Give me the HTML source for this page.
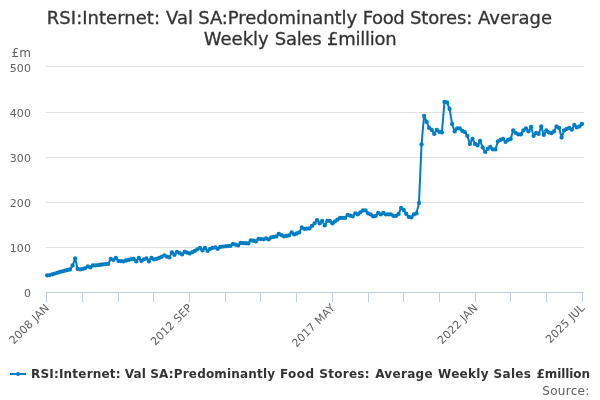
<!DOCTYPE html>
<html><head><meta charset="utf-8"><title>chart</title>
<style>
html,body{margin:0;padding:0;background:#fff;}
svg{display:block;font-family:"DejaVu Sans","Liberation Sans",sans-serif;}
</style></head><body>
<svg width="600" height="400" viewBox="0 0 600 400">
<rect x="0" y="0" width="600" height="400" fill="#FFFFFF"/>
<g><path d="M 46 66.5 L 584 66.5" stroke="#E0E0E0" stroke-width="1" fill="none"/><path d="M 46 112.5 L 584 112.5" stroke="#E0E0E0" stroke-width="1" fill="none"/><path d="M 46 157.5 L 584 157.5" stroke="#E0E0E0" stroke-width="1" fill="none"/><path d="M 46 202.5 L 584 202.5" stroke="#E0E0E0" stroke-width="1" fill="none"/><path d="M 46 247.5 L 584 247.5" stroke="#E0E0E0" stroke-width="1" fill="none"/></g>
<g><path d="M 46.5 292 L 46.5 302" stroke="#C0D0E0" stroke-width="1" fill="none"/><path d="M 82.5 292 L 82.5 302" stroke="#C0D0E0" stroke-width="1" fill="none"/><path d="M 118.5 292 L 118.5 302" stroke="#C0D0E0" stroke-width="1" fill="none"/><path d="M 153.5 292 L 153.5 302" stroke="#C0D0E0" stroke-width="1" fill="none"/><path d="M 189.5 292 L 189.5 302" stroke="#C0D0E0" stroke-width="1" fill="none"/><path d="M 225.5 292 L 225.5 302" stroke="#C0D0E0" stroke-width="1" fill="none"/><path d="M 260.5 292 L 260.5 302" stroke="#C0D0E0" stroke-width="1" fill="none"/><path d="M 296.5 292 L 296.5 302" stroke="#C0D0E0" stroke-width="1" fill="none"/><path d="M 332.5 292 L 332.5 302" stroke="#C0D0E0" stroke-width="1" fill="none"/><path d="M 368.5 292 L 368.5 302" stroke="#C0D0E0" stroke-width="1" fill="none"/><path d="M 403.5 292 L 403.5 302" stroke="#C0D0E0" stroke-width="1" fill="none"/><path d="M 439.5 292 L 439.5 302" stroke="#C0D0E0" stroke-width="1" fill="none"/><path d="M 475.5 292 L 475.5 302" stroke="#C0D0E0" stroke-width="1" fill="none"/><path d="M 510.5 292 L 510.5 302" stroke="#C0D0E0" stroke-width="1" fill="none"/><path d="M 546.5 292 L 546.5 302" stroke="#C0D0E0" stroke-width="1" fill="none"/><path d="M 582.5 292 L 582.5 302" stroke="#C0D0E0" stroke-width="1" fill="none"/><path d="M 46 292.5 L 584 292.5" stroke="#C0D0E0" stroke-width="1" fill="none"/></g>
<g fill="none" stroke="#007DC3" stroke-width="2" stroke-linejoin="round" stroke-linecap="round"><path d="M 47.10 275.30 L 49.65 275.10 L 52.19 274.40 L 54.74 273.60 L 57.29 272.80 L 59.84 272.00 L 62.38 271.40 L 64.93 270.70 L 67.48 270.00 L 70.02 269.50 L 72.57 265.50 L 75.12 258.50 L 77.67 269.00 L 80.21 269.40 L 82.76 268.90 L 85.31 268.08 L 87.85 266.40 L 90.40 267.40 L 92.95 265.40 L 95.49 265.40 L 98.04 265.05 L 100.59 264.76 L 103.14 264.46 L 105.68 264.17 L 108.23 263.90 L 110.78 258.90 L 113.32 259.90 L 115.87 257.90 L 118.42 260.90 L 120.97 261.17 L 123.51 261.40 L 126.06 260.48 L 128.61 259.90 L 131.15 259.20 L 133.70 258.90 L 136.25 261.40 L 138.80 257.90 L 141.34 260.90 L 143.89 259.29 L 146.44 258.40 L 148.98 261.40 L 151.53 257.90 L 154.08 259.40 L 156.63 258.91 L 159.17 257.90 L 161.72 256.83 L 164.27 255.40 L 166.81 256.65 L 169.36 257.40 L 171.91 252.40 L 174.45 254.90 L 177.00 251.90 L 179.55 253.04 L 182.10 254.40 L 184.64 251.90 L 187.19 252.63 L 189.74 253.40 L 192.28 252.26 L 194.83 250.90 L 197.38 249.31 L 199.93 247.90 L 202.47 250.40 L 205.02 247.90 L 207.57 250.90 L 210.11 248.90 L 212.66 247.90 L 215.21 247.40 L 217.76 248.90 L 220.30 246.90 L 222.85 246.62 L 225.40 246.36 L 227.94 246.11 L 230.49 245.90 L 233.04 243.90 L 235.59 244.68 L 238.13 245.40 L 240.68 242.90 L 243.23 243.06 L 245.77 243.24 L 248.32 243.40 L 250.87 240.40 L 253.42 240.75 L 255.96 241.40 L 258.51 238.90 L 261.06 239.12 L 263.60 239.30 L 266.15 238.40 L 268.70 239.40 L 271.24 237.40 L 273.79 236.89 L 276.34 236.40 L 278.89 233.90 L 281.43 235.12 L 283.98 236.40 L 286.53 235.89 L 289.07 235.40 L 291.62 232.40 L 294.17 234.40 L 296.72 233.51 L 299.26 232.40 L 301.81 227.40 L 304.36 228.90 L 306.90 228.66 L 309.45 228.40 L 312.00 225.90 L 314.55 223.40 L 317.09 220.20 L 319.64 223.40 L 322.19 220.90 L 324.73 225.40 L 327.28 220.90 L 329.83 220.90 L 332.38 223.40 L 334.92 221.39 L 337.47 219.64 L 340.02 217.90 L 342.56 217.90 L 345.11 217.90 L 347.66 214.90 L 350.20 215.63 L 352.75 216.40 L 355.30 213.40 L 357.85 214.40 L 360.39 212.30 L 362.94 210.40 L 365.49 210.40 L 368.03 213.40 L 370.58 214.40 L 373.13 216.40 L 375.68 215.90 L 378.22 212.90 L 380.77 214.40 L 383.32 212.90 L 385.86 214.40 L 388.41 214.40 L 390.96 214.40 L 393.51 215.90 L 396.05 215.90 L 398.60 213.90 L 401.15 207.90 L 403.69 209.90 L 406.24 213.90 L 408.79 216.90 L 411.34 217.40 L 413.88 214.40 L 416.43 213.40 L 418.98 202.90 L 421.52 144.40 L 424.07 115.90 L 426.62 121.90 L 429.17 127.90 L 431.71 129.90 L 434.26 133.90 L 436.81 129.90 L 439.35 131.90 L 441.90 132.40 L 444.45 101.90 L 446.99 102.40 L 449.54 108.90 L 452.09 123.90 L 454.64 131.40 L 457.18 128.40 L 459.73 128.40 L 462.28 130.90 L 464.82 132.20 L 467.37 135.90 L 469.92 143.90 L 472.47 138.90 L 475.01 143.90 L 477.56 145.40 L 480.11 140.90 L 482.65 147.40 L 485.20 151.90 L 487.75 148.90 L 490.30 146.90 L 492.84 149.40 L 495.39 149.40 L 497.94 141.40 L 500.48 139.90 L 503.03 138.90 L 505.58 141.90 L 508.13 139.90 L 510.67 138.90 L 513.22 130.40 L 515.77 132.90 L 518.31 134.40 L 520.86 134.40 L 523.41 130.40 L 525.95 128.40 L 528.50 131.40 L 531.05 126.90 L 533.60 135.90 L 536.14 132.90 L 538.69 133.90 L 541.24 126.40 L 543.78 134.90 L 546.33 130.40 L 548.88 132.40 L 551.43 133.20 L 553.97 131.40 L 556.52 126.40 L 559.07 127.90 L 561.61 137.60 L 564.16 130.40 L 566.71 128.90 L 569.26 127.90 L 571.80 129.70 L 574.35 124.90 L 576.90 127.40 L 579.44 126.40 L 581.99 123.90"/></g>
<g fill="#007DC3"><circle cx="47.10" cy="275.30" r="2.15"/><circle cx="49.65" cy="275.10" r="2.15"/><circle cx="52.19" cy="274.40" r="2.15"/><circle cx="54.74" cy="273.60" r="2.15"/><circle cx="57.29" cy="272.80" r="2.15"/><circle cx="59.84" cy="272.00" r="2.15"/><circle cx="62.38" cy="271.40" r="2.15"/><circle cx="64.93" cy="270.70" r="2.15"/><circle cx="67.48" cy="270.00" r="2.15"/><circle cx="70.02" cy="269.50" r="2.15"/><circle cx="72.57" cy="265.50" r="2.15"/><circle cx="75.12" cy="258.50" r="2.15"/><circle cx="77.67" cy="269.00" r="2.15"/><circle cx="80.21" cy="269.40" r="2.15"/><circle cx="82.76" cy="268.90" r="2.15"/><circle cx="85.31" cy="268.08" r="2.15"/><circle cx="87.85" cy="266.40" r="2.15"/><circle cx="90.40" cy="267.40" r="2.15"/><circle cx="92.95" cy="265.40" r="2.15"/><circle cx="95.49" cy="265.40" r="2.15"/><circle cx="98.04" cy="265.05" r="2.15"/><circle cx="100.59" cy="264.76" r="2.15"/><circle cx="103.14" cy="264.46" r="2.15"/><circle cx="105.68" cy="264.17" r="2.15"/><circle cx="108.23" cy="263.90" r="2.15"/><circle cx="110.78" cy="258.90" r="2.15"/><circle cx="113.32" cy="259.90" r="2.15"/><circle cx="115.87" cy="257.90" r="2.15"/><circle cx="118.42" cy="260.90" r="2.15"/><circle cx="120.97" cy="261.17" r="2.15"/><circle cx="123.51" cy="261.40" r="2.15"/><circle cx="126.06" cy="260.48" r="2.15"/><circle cx="128.61" cy="259.90" r="2.15"/><circle cx="131.15" cy="259.20" r="2.15"/><circle cx="133.70" cy="258.90" r="2.15"/><circle cx="136.25" cy="261.40" r="2.15"/><circle cx="138.80" cy="257.90" r="2.15"/><circle cx="141.34" cy="260.90" r="2.15"/><circle cx="143.89" cy="259.29" r="2.15"/><circle cx="146.44" cy="258.40" r="2.15"/><circle cx="148.98" cy="261.40" r="2.15"/><circle cx="151.53" cy="257.90" r="2.15"/><circle cx="154.08" cy="259.40" r="2.15"/><circle cx="156.63" cy="258.91" r="2.15"/><circle cx="159.17" cy="257.90" r="2.15"/><circle cx="161.72" cy="256.83" r="2.15"/><circle cx="164.27" cy="255.40" r="2.15"/><circle cx="166.81" cy="256.65" r="2.15"/><circle cx="169.36" cy="257.40" r="2.15"/><circle cx="171.91" cy="252.40" r="2.15"/><circle cx="174.45" cy="254.90" r="2.15"/><circle cx="177.00" cy="251.90" r="2.15"/><circle cx="179.55" cy="253.04" r="2.15"/><circle cx="182.10" cy="254.40" r="2.15"/><circle cx="184.64" cy="251.90" r="2.15"/><circle cx="187.19" cy="252.63" r="2.15"/><circle cx="189.74" cy="253.40" r="2.15"/><circle cx="192.28" cy="252.26" r="2.15"/><circle cx="194.83" cy="250.90" r="2.15"/><circle cx="197.38" cy="249.31" r="2.15"/><circle cx="199.93" cy="247.90" r="2.15"/><circle cx="202.47" cy="250.40" r="2.15"/><circle cx="205.02" cy="247.90" r="2.15"/><circle cx="207.57" cy="250.90" r="2.15"/><circle cx="210.11" cy="248.90" r="2.15"/><circle cx="212.66" cy="247.90" r="2.15"/><circle cx="215.21" cy="247.40" r="2.15"/><circle cx="217.76" cy="248.90" r="2.15"/><circle cx="220.30" cy="246.90" r="2.15"/><circle cx="222.85" cy="246.62" r="2.15"/><circle cx="225.40" cy="246.36" r="2.15"/><circle cx="227.94" cy="246.11" r="2.15"/><circle cx="230.49" cy="245.90" r="2.15"/><circle cx="233.04" cy="243.90" r="2.15"/><circle cx="235.59" cy="244.68" r="2.15"/><circle cx="238.13" cy="245.40" r="2.15"/><circle cx="240.68" cy="242.90" r="2.15"/><circle cx="243.23" cy="243.06" r="2.15"/><circle cx="245.77" cy="243.24" r="2.15"/><circle cx="248.32" cy="243.40" r="2.15"/><circle cx="250.87" cy="240.40" r="2.15"/><circle cx="253.42" cy="240.75" r="2.15"/><circle cx="255.96" cy="241.40" r="2.15"/><circle cx="258.51" cy="238.90" r="2.15"/><circle cx="261.06" cy="239.12" r="2.15"/><circle cx="263.60" cy="239.30" r="2.15"/><circle cx="266.15" cy="238.40" r="2.15"/><circle cx="268.70" cy="239.40" r="2.15"/><circle cx="271.24" cy="237.40" r="2.15"/><circle cx="273.79" cy="236.89" r="2.15"/><circle cx="276.34" cy="236.40" r="2.15"/><circle cx="278.89" cy="233.90" r="2.15"/><circle cx="281.43" cy="235.12" r="2.15"/><circle cx="283.98" cy="236.40" r="2.15"/><circle cx="286.53" cy="235.89" r="2.15"/><circle cx="289.07" cy="235.40" r="2.15"/><circle cx="291.62" cy="232.40" r="2.15"/><circle cx="294.17" cy="234.40" r="2.15"/><circle cx="296.72" cy="233.51" r="2.15"/><circle cx="299.26" cy="232.40" r="2.15"/><circle cx="301.81" cy="227.40" r="2.15"/><circle cx="304.36" cy="228.90" r="2.15"/><circle cx="306.90" cy="228.66" r="2.15"/><circle cx="309.45" cy="228.40" r="2.15"/><circle cx="312.00" cy="225.90" r="2.15"/><circle cx="314.55" cy="223.40" r="2.15"/><circle cx="317.09" cy="220.20" r="2.15"/><circle cx="319.64" cy="223.40" r="2.15"/><circle cx="322.19" cy="220.90" r="2.15"/><circle cx="324.73" cy="225.40" r="2.15"/><circle cx="327.28" cy="220.90" r="2.15"/><circle cx="329.83" cy="220.90" r="2.15"/><circle cx="332.38" cy="223.40" r="2.15"/><circle cx="334.92" cy="221.39" r="2.15"/><circle cx="337.47" cy="219.64" r="2.15"/><circle cx="340.02" cy="217.90" r="2.15"/><circle cx="342.56" cy="217.90" r="2.15"/><circle cx="345.11" cy="217.90" r="2.15"/><circle cx="347.66" cy="214.90" r="2.15"/><circle cx="350.20" cy="215.63" r="2.15"/><circle cx="352.75" cy="216.40" r="2.15"/><circle cx="355.30" cy="213.40" r="2.15"/><circle cx="357.85" cy="214.40" r="2.15"/><circle cx="360.39" cy="212.30" r="2.15"/><circle cx="362.94" cy="210.40" r="2.15"/><circle cx="365.49" cy="210.40" r="2.15"/><circle cx="368.03" cy="213.40" r="2.15"/><circle cx="370.58" cy="214.40" r="2.15"/><circle cx="373.13" cy="216.40" r="2.15"/><circle cx="375.68" cy="215.90" r="2.15"/><circle cx="378.22" cy="212.90" r="2.15"/><circle cx="380.77" cy="214.40" r="2.15"/><circle cx="383.32" cy="212.90" r="2.15"/><circle cx="385.86" cy="214.40" r="2.15"/><circle cx="388.41" cy="214.40" r="2.15"/><circle cx="390.96" cy="214.40" r="2.15"/><circle cx="393.51" cy="215.90" r="2.15"/><circle cx="396.05" cy="215.90" r="2.15"/><circle cx="398.60" cy="213.90" r="2.15"/><circle cx="401.15" cy="207.90" r="2.15"/><circle cx="403.69" cy="209.90" r="2.15"/><circle cx="406.24" cy="213.90" r="2.15"/><circle cx="408.79" cy="216.90" r="2.15"/><circle cx="411.34" cy="217.40" r="2.15"/><circle cx="413.88" cy="214.40" r="2.15"/><circle cx="416.43" cy="213.40" r="2.15"/><circle cx="418.98" cy="202.90" r="2.15"/><circle cx="421.52" cy="144.40" r="2.15"/><circle cx="424.07" cy="115.90" r="2.15"/><circle cx="426.62" cy="121.90" r="2.15"/><circle cx="429.17" cy="127.90" r="2.15"/><circle cx="431.71" cy="129.90" r="2.15"/><circle cx="434.26" cy="133.90" r="2.15"/><circle cx="436.81" cy="129.90" r="2.15"/><circle cx="439.35" cy="131.90" r="2.15"/><circle cx="441.90" cy="132.40" r="2.15"/><circle cx="444.45" cy="101.90" r="2.15"/><circle cx="446.99" cy="102.40" r="2.15"/><circle cx="449.54" cy="108.90" r="2.15"/><circle cx="452.09" cy="123.90" r="2.15"/><circle cx="454.64" cy="131.40" r="2.15"/><circle cx="457.18" cy="128.40" r="2.15"/><circle cx="459.73" cy="128.40" r="2.15"/><circle cx="462.28" cy="130.90" r="2.15"/><circle cx="464.82" cy="132.20" r="2.15"/><circle cx="467.37" cy="135.90" r="2.15"/><circle cx="469.92" cy="143.90" r="2.15"/><circle cx="472.47" cy="138.90" r="2.15"/><circle cx="475.01" cy="143.90" r="2.15"/><circle cx="477.56" cy="145.40" r="2.15"/><circle cx="480.11" cy="140.90" r="2.15"/><circle cx="482.65" cy="147.40" r="2.15"/><circle cx="485.20" cy="151.90" r="2.15"/><circle cx="487.75" cy="148.90" r="2.15"/><circle cx="490.30" cy="146.90" r="2.15"/><circle cx="492.84" cy="149.40" r="2.15"/><circle cx="495.39" cy="149.40" r="2.15"/><circle cx="497.94" cy="141.40" r="2.15"/><circle cx="500.48" cy="139.90" r="2.15"/><circle cx="503.03" cy="138.90" r="2.15"/><circle cx="505.58" cy="141.90" r="2.15"/><circle cx="508.13" cy="139.90" r="2.15"/><circle cx="510.67" cy="138.90" r="2.15"/><circle cx="513.22" cy="130.40" r="2.15"/><circle cx="515.77" cy="132.90" r="2.15"/><circle cx="518.31" cy="134.40" r="2.15"/><circle cx="520.86" cy="134.40" r="2.15"/><circle cx="523.41" cy="130.40" r="2.15"/><circle cx="525.95" cy="128.40" r="2.15"/><circle cx="528.50" cy="131.40" r="2.15"/><circle cx="531.05" cy="126.90" r="2.15"/><circle cx="533.60" cy="135.90" r="2.15"/><circle cx="536.14" cy="132.90" r="2.15"/><circle cx="538.69" cy="133.90" r="2.15"/><circle cx="541.24" cy="126.40" r="2.15"/><circle cx="543.78" cy="134.90" r="2.15"/><circle cx="546.33" cy="130.40" r="2.15"/><circle cx="548.88" cy="132.40" r="2.15"/><circle cx="551.43" cy="133.20" r="2.15"/><circle cx="553.97" cy="131.40" r="2.15"/><circle cx="556.52" cy="126.40" r="2.15"/><circle cx="559.07" cy="127.90" r="2.15"/><circle cx="561.61" cy="137.60" r="2.15"/><circle cx="564.16" cy="130.40" r="2.15"/><circle cx="566.71" cy="128.90" r="2.15"/><circle cx="569.26" cy="127.90" r="2.15"/><circle cx="571.80" cy="129.70" r="2.15"/><circle cx="574.35" cy="124.90" r="2.15"/><circle cx="576.90" cy="127.40" r="2.15"/><circle cx="579.44" cy="126.40" r="2.15"/><circle cx="581.99" cy="123.90" r="2.15"/></g>
<text font-size="18px" fill="#333333" stroke="#333333" stroke-width="0.3"><tspan x="46.8" y="24" letter-spacing="0.03">RSI:Internet:</tspan> <tspan x="166.0" y="24" letter-spacing="0">Val</tspan> <tspan x="198.2" y="24" letter-spacing="-0.07">SA:Predominantly</tspan> <tspan x="362.7" y="24" letter-spacing="-0.35">Food</tspan> <tspan x="409.9" y="24" letter-spacing="-0.1">Stores:</tspan> <tspan x="478.1" y="24" letter-spacing="0">Average</tspan> <tspan x="203.8" y="45" letter-spacing="0">Weekly</tspan> <tspan x="274.8" y="45" letter-spacing="-0.3">Sales</tspan> <tspan x="327.0" y="45" letter-spacing="-0.25">£million</tspan> </text>
<text x="11.5" y="57" font-size="12px" fill="#606060">£m</text>
<g font-size="11px" fill="#606060" letter-spacing="0.12"><text x="31.1" y="72" text-anchor="end">500</text><text x="31.1" y="117" text-anchor="end">400</text><text x="31.1" y="162" text-anchor="end">300</text><text x="31.1" y="207" text-anchor="end">200</text><text x="31.1" y="252" text-anchor="end">100</text><text x="31.1" y="297" text-anchor="end">0</text></g>
<g font-size="11px" fill="#606060" letter-spacing="0.13"><text x="50.0" y="308.5" text-anchor="end" transform="rotate(-45 50.0 308.5)">2008 JAN</text><text x="192.8" y="308.5" text-anchor="end" transform="rotate(-45 192.8 308.5)">2012 SEP</text><text x="335.6" y="308.5" text-anchor="end" transform="rotate(-45 335.6 308.5)">2017 MAY</text><text x="478.4" y="308.5" text-anchor="end" transform="rotate(-45 478.4 308.5)">2022 JAN</text><text x="585.5" y="308.5" text-anchor="end" transform="rotate(-45 585.5 308.5)">2025 JUL</text></g>
<g><path d="M 10 374 L 26 374" stroke="#007DC3" stroke-width="2" fill="none"/><circle cx="18" cy="374" r="2" fill="#007DC3"/>
<text y="378" font-size="12px" font-weight="bold" fill="#333333"><tspan x="31" letter-spacing="0.2">RSI:Internet:</tspan> <tspan x="124.8" letter-spacing="0.1">Val</tspan> <tspan x="150.2" letter-spacing="0.19">SA:Predominantly</tspan> <tspan x="279.9" letter-spacing="0.5">Food</tspan> <tspan x="319.3" letter-spacing="0.27">Stores:</tspan> <tspan x="375.2" letter-spacing="0.3">Average</tspan> <tspan x="438.1" letter-spacing="0.28">Weekly</tspan> <tspan x="493.6" letter-spacing="0.3">Sales</tspan> <tspan x="536.6" letter-spacing="-0.1">£million</tspan> </text></g>
<text x="589.5" y="394.5" text-anchor="end" font-size="12px" letter-spacing="0.27" fill="#606060">Source:</text>
</svg>
</body></html>
